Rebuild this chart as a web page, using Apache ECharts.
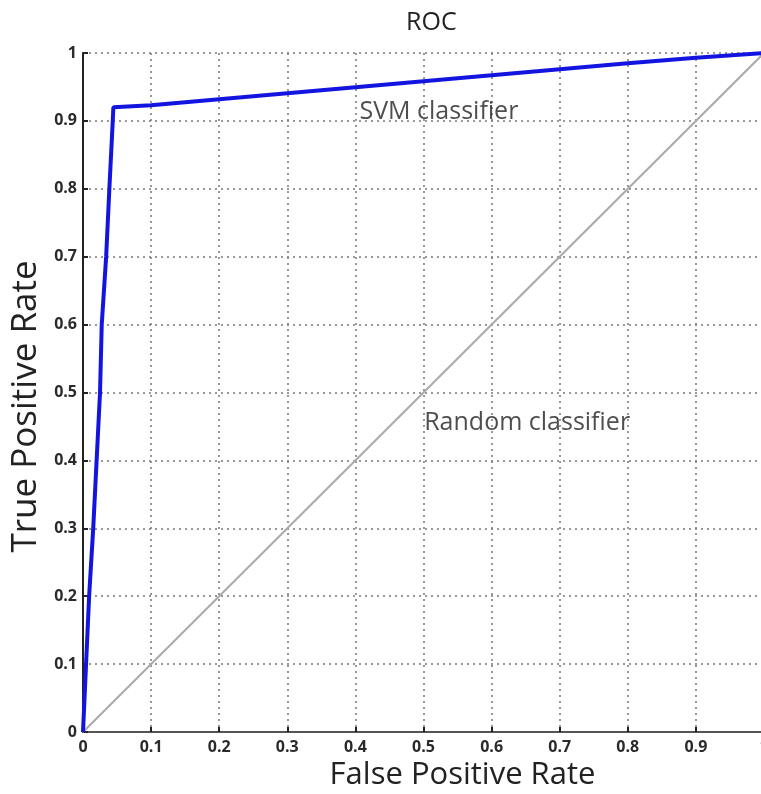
<!DOCTYPE html>
<html><head><meta charset="utf-8">
<script src="https://cdn.jsdelivr.net/npm/echarts@6/dist/echarts.min.js"></script>
<style>html,body{margin:0;padding:0;background:#fff}#c{width:761px;height:794px}</style>
</head><body><div id="c"></div>
<script>
// SVM ROC curve points [FPR, TPR]
const svmFPR = [0, 0.0045, 0.009, 0.015, 0.020, 0.025, 0.0275, 0.034, 0.0387, 0.0437, 0.0446, 0.1, 0.2, 0.8, 0.9, 1.0];
const svmTPR = [0, 0.1, 0.2, 0.3, 0.4, 0.5, 0.6, 0.7, 0.8, 0.9, 0.92, 0.923, 0.932, 0.985, 0.993, 1.0];
// Random classifier diagonal
const randFPR = [0, 1];
const randTPR = [0, 1];
const tickLabels = ['0','0.1','0.2','0.3','0.4','0.5','0.6','0.7','0.8','0.9','1'];
const annotations = [
  {text: 'SVM classifier', x: 0.406, y: 0.914},
  {text: 'Random classifier', x: 0.501, y: 0.455}
];

const font = 'Open Sans';
const chart = echarts.init(document.getElementById('c'), null, {renderer: 'canvas'});
const axisCommon = {
  type: 'value', min: 0, max: 1, interval: 0.1,
  axisLine: {show: true, lineStyle: {color: '#222', width: 2}},
  axisTick: {show: true, inside: true, length: 5, lineStyle: {color: '#222', width: 2}},
  splitLine: {show: true, lineStyle: {color: '#777', type: [2, 4], width: 1.5}},
  axisLabel: {
    color: '#2a2a2a', fontFamily: font, fontSize: 16, fontWeight: 'bold',
    formatter: v => tickLabels[Math.round(v * 10)]
  },
  nameLocation: 'middle'
};
chart.setOption({
  animation: false,
  title: {text: 'ROC', left: 401, top: 5,
    textStyle: {fontFamily: font, fontSize: 25, fontWeight: 'normal', color: '#222'}},
  grid: {left: 83, top: 53, width: 681, height: 679, outerBoundsMode: 'none', containLabel: false},
  xAxis: Object.assign({}, axisCommon, {
    name: 'False Positive Rate', nameGap: 24,
    nameTextStyle: {fontFamily: font, fontSize: 31, color: '#222', padding: [0, 0, 0, 78]},
    axisLine: {show: true, lineStyle: {color: '#555', width: 2}},
    axisLabel: Object.assign({}, axisCommon.axisLabel, {margin: 7})
  }),
  yAxis: Object.assign({}, axisCommon, {
    name: 'True Positive Rate', nameGap: 39,
    nameTextStyle: {fontFamily: font, fontSize: 35, color: '#222', padding: [0, 28, 0, 0]},
    axisLabel: Object.assign({}, axisCommon.axisLabel, {margin: 6})
  }),
  series: [
    {
      type: 'line', data: randFPR.map((x, i) => [x, randTPR[i]]),
      showSymbol: false, lineStyle: {color: '#aaa', width: 2}, z: 2
    },
    {
      type: 'line', data: svmFPR.map((x, i) => [x, svmTPR[i]]),
      showSymbol: false, lineStyle: {color: '#1414e0', width: 4}, z: 3
    },
    {
      type: 'scatter', symbolSize: 0, silent: true,
      data: annotations.map(a => ({value: [a.x, a.y], name: a.text})),
      label: {show: true, position: 'right', distance: 0,
        formatter: p => p.name,
        fontFamily: font, fontSize: 25, color: '#222'}
    }
  ]
});
</script></body></html>
